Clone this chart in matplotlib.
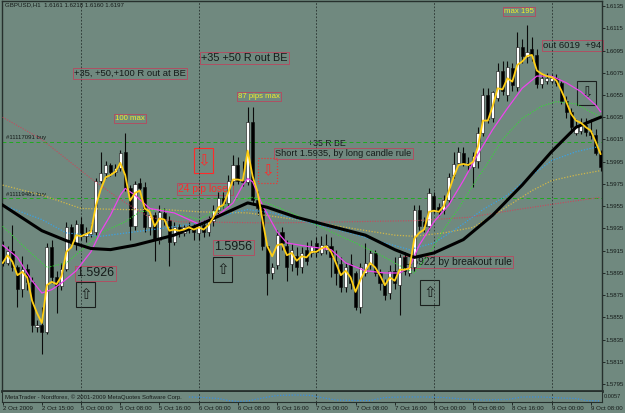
import numpy as np
import matplotlib.pyplot as plt
from matplotlib.patches import Rectangle

plt.rcParams["font.family"] = ["Liberation Sans", "DejaVu Sans"]

BG = "#70897f"
INK = "#151b19"
BOX = "#b8475e"

# GBPUSD H1, one value per bar: 2 Oct 2009 07:00 .. 9 Oct 2009 10:00
opens = [1.5919, 1.5904, 1.5915, 1.5900, 1.5881, 1.5899, 1.5887, 1.5846, 1.5848, 1.5842,
         1.5918, 1.5891, 1.5883, 1.5899, 1.5936, 1.5922, 1.5939, 1.5928, 1.5930, 1.5932,
         1.5978, 1.5985, 1.5992, 1.5986, 1.5989, 1.6004, 1.5971, 1.5937, 1.5976, 1.5972,
         1.5936, 1.5947, 1.5925, 1.5949, 1.5943, 1.5923, 1.5936, 1.5931, 1.5935, 1.5937,
         1.5931, 1.5938, 1.5932, 1.5942, 1.5952, 1.5962, 1.5958, 1.5978, 1.5992, 1.5978,
         1.5977, 1.6031, 1.5961, 1.5953, 1.5919, 1.5895, 1.5902, 1.5932, 1.5919, 1.5903,
         1.5910, 1.5900, 1.5916, 1.5913, 1.5922, 1.5913, 1.5916, 1.5919, 1.5906, 1.5903,
         1.5882, 1.5903, 1.5895, 1.5864, 1.5895, 1.5902, 1.5913, 1.5895, 1.5886, 1.5877,
         1.5897, 1.5884, 1.5909, 1.5895, 1.5900, 1.5952, 1.5941, 1.5937, 1.5964, 1.5954,
         1.5952, 1.5961, 1.5983, 1.5994, 1.6003, 1.5994, 1.5990, 1.5996, 1.6021, 1.6055,
         1.6034, 1.6052, 1.6077, 1.6055, 1.6079, 1.6062, 1.6098, 1.6089, 1.6096, 1.6091,
         1.6065, 1.6068, 1.6068, 1.6070, 1.6066, 1.6050, 1.6040, 1.6021, 1.6023, 1.6028,
         1.6022, 1.6019, 1.6003]
highs = [1.5924, 1.5919, 1.5938, 1.5902, 1.5910, 1.5903, 1.5891, 1.5853, 1.5864, 1.5922,
         1.5925, 1.5897, 1.5904, 1.5941, 1.5939, 1.5943, 1.5945, 1.5936, 1.5939, 1.5980,
         1.6004, 1.5996, 1.5994, 1.5993, 1.6006, 1.6021, 1.5974, 1.5978, 1.5980, 1.5977,
         1.5950, 1.5950, 1.5956, 1.5953, 1.5946, 1.5941, 1.5939, 1.5938, 1.5941, 1.5939,
         1.5943, 1.5943, 1.5946, 1.5956, 1.5968, 1.5968, 1.5983, 1.6001, 1.5999, 1.5996,
         1.6044, 1.6044, 1.5969, 1.5956, 1.5921, 1.5904, 1.5934, 1.5936, 1.5925, 1.5921,
         1.5918, 1.5918, 1.5923, 1.5925, 1.5927, 1.5928, 1.5930, 1.5927, 1.5916, 1.5909,
         1.5904, 1.5912, 1.5897, 1.5904, 1.5922, 1.5916, 1.5916, 1.5899, 1.5890, 1.5902,
         1.5909, 1.5912, 1.5914, 1.5904, 1.5956, 1.5956, 1.5945, 1.5971, 1.5968, 1.5958,
         1.5965, 1.5985, 1.6004, 1.6008, 1.6008, 1.5999, 1.6004, 1.6026, 1.6061, 1.6061,
         1.6059, 1.6084, 1.6086, 1.6086, 1.6084, 1.6112, 1.6105, 1.6118, 1.6107, 1.6096,
         1.6074, 1.6075, 1.6074, 1.6074, 1.6068, 1.6054, 1.6043, 1.6033, 1.6034, 1.6034,
         1.6033, 1.6024, 1.6006]
lows = [1.5901, 1.5902, 1.5897, 1.5864, 1.5873, 1.5880, 1.5842, 1.5842, 1.5822, 1.5840,
        1.5886, 1.5859, 1.5880, 1.5897, 1.5920, 1.5916, 1.5925, 1.5923, 1.5927, 1.5929,
        1.5976, 1.5980, 1.5982, 1.5982, 1.5987, 1.5969, 1.5925, 1.5934, 1.5969, 1.5932,
        1.5929, 1.5906, 1.5921, 1.5938, 1.5901, 1.5920, 1.5927, 1.5928, 1.5931, 1.5925,
        1.5925, 1.5927, 1.5928, 1.5937, 1.5948, 1.5953, 1.5955, 1.5974, 1.5975, 1.5973,
        1.5974, 1.5956, 1.5947, 1.5916, 1.5875, 1.5890, 1.5899, 1.5916, 1.5888, 1.5897,
        1.5893, 1.5895, 1.5902, 1.5909, 1.5909, 1.5911, 1.5912, 1.5891, 1.5884, 1.5878,
        1.5878, 1.5881, 1.5862, 1.5859, 1.5892, 1.5899, 1.5892, 1.5880, 1.5871, 1.5872,
        1.5881, 1.5857, 1.5893, 1.5892, 1.5897, 1.5934, 1.5932, 1.5934, 1.5949, 1.5946,
        1.5948, 1.5958, 1.5980, 1.5992, 1.5991, 1.5987, 1.5972, 1.5989, 1.6018, 1.6030,
        1.6031, 1.6050, 1.6055, 1.6050, 1.6059, 1.6059, 1.6084, 1.6084, 1.6086, 1.6061,
        1.6061, 1.6065, 1.6066, 1.6063, 1.6047, 1.6034, 1.6021, 1.6019, 1.6020, 1.6018,
        1.6015, 1.6001, 1.5987]
closes = [1.5904, 1.5915, 1.5900, 1.5881, 1.5899, 1.5887, 1.5848, 1.5848, 1.5842, 1.5918,
          1.5891, 1.5883, 1.5899, 1.5936, 1.5922, 1.5939, 1.5928, 1.5931, 1.5934, 1.5978,
          1.5985, 1.5992, 1.5986, 1.5989, 1.6003, 1.5971, 1.5937, 1.5975, 1.5971, 1.5936,
          1.5947, 1.5925, 1.5950, 1.5943, 1.5923, 1.5936, 1.5931, 1.5936, 1.5937, 1.5932,
          1.5938, 1.5932, 1.5942, 1.5952, 1.5962, 1.5958, 1.5978, 1.5992, 1.5978, 1.5977,
          1.6031, 1.5961, 1.5953, 1.5919, 1.5895, 1.5900, 1.5929, 1.5922, 1.5900, 1.5916,
          1.5900, 1.5913, 1.5906, 1.5919, 1.5914, 1.5920, 1.5920, 1.5909, 1.5895, 1.5882,
          1.5900, 1.5886, 1.5864, 1.5900, 1.5904, 1.5913, 1.5895, 1.5886, 1.5875, 1.5897,
          1.5886, 1.5909, 1.5897, 1.5900, 1.5952, 1.5937, 1.5937, 1.5967, 1.5952, 1.5950,
          1.5961, 1.5981, 1.5993, 1.6004, 1.5994, 1.5992, 1.6000, 1.6021, 1.6055, 1.6033,
          1.6058, 1.6077, 1.6059, 1.6080, 1.6064, 1.6098, 1.6090, 1.6094, 1.6091, 1.6065,
          1.6070, 1.6070, 1.6070, 1.6066, 1.6050, 1.6040, 1.6026, 1.6026, 1.6028, 1.6022,
          1.6019, 1.6003, 1.5990]

# yellow fast average, one value per bar
fast_ma = [1.5904, 1.5911, 1.5905, 1.5893, 1.5896, 1.5891, 1.5870, 1.5859, 1.5850, 1.5884,
           1.5887, 1.5885, 1.5892, 1.5914, 1.5918, 1.5929, 1.5928, 1.5930, 1.5932, 1.5955,
           1.5970, 1.5981, 1.5983, 1.5986, 1.5994, 1.5983, 1.5960, 1.5967, 1.5969, 1.5953,
           1.5950, 1.5937, 1.5944, 1.5943, 1.5933, 1.5934, 1.5933, 1.5934, 1.5936, 1.5934,
           1.5936, 1.5934, 1.5938, 1.5945, 1.5954, 1.5956, 1.5967, 1.5979, 1.5979, 1.5978,
           1.6005, 1.5982, 1.5968, 1.5943, 1.5919, 1.5910, 1.5920, 1.5921, 1.5911, 1.5913,
           1.5906, 1.5910, 1.5909, 1.5914, 1.5914, 1.5917, 1.5919, 1.5914, 1.5904, 1.5893,
           1.5897, 1.5891, 1.5878, 1.5889, 1.5897, 1.5904, 1.5900, 1.5893, 1.5884, 1.5891,
           1.5888, 1.5898, 1.5898, 1.5899, 1.5926, 1.5931, 1.5934, 1.5950, 1.5951, 1.5950,
           1.5955, 1.5968, 1.5981, 1.5992, 1.5993, 1.5992, 1.5995, 1.6009, 1.6032, 1.6032,
           1.6045, 1.6061, 1.6060, 1.6070, 1.6067, 1.6082, 1.6085, 1.6090, 1.6091, 1.6077,
           1.6074, 1.6072, 1.6071, 1.6068, 1.6059, 1.6049, 1.6038, 1.6032, 1.6030, 1.6026,
           1.6023, 1.6013, 1.6002]

magenta_bars = [0, 3, 6, 8, 10, 12, 15, 18, 20, 22, 24, 25, 27, 30, 35, 40, 44, 47, 49, 50,
                51, 53, 56, 58, 62, 67, 70, 74, 78, 81, 83, 85, 88, 91, 94, 97, 100, 103, 106, 109,
                112, 115, 118, 121, 122]
magenta_ma = [1.5920, 1.5909, 1.5888, 1.5877, 1.5880, 1.5886, 1.5897, 1.5914, 1.5932, 1.5947,
              1.5965, 1.5971, 1.5965, 1.5953, 1.5949, 1.5939, 1.5947, 1.5958, 1.5974, 1.5980,
              1.5977, 1.5956, 1.5932, 1.5922, 1.5919, 1.5916, 1.5904, 1.5897, 1.5895, 1.5895,
              1.5900, 1.5920, 1.5941, 1.5956, 1.5978, 1.6002, 1.6024, 1.6043, 1.6061, 1.6072,
              1.6072, 1.6066, 1.6058, 1.6046, 1.6040]
green_bars = [0, 5, 9, 13, 17, 20, 25, 28, 33, 40, 44, 48, 51, 55, 60, 66, 72, 78, 82, 84,
              87, 90, 93, 96, 99, 102, 106, 110, 113, 117, 122]
green_ma = [1.5937, 1.5916, 1.5900, 1.5904, 1.5919, 1.5931, 1.5941, 1.5950, 1.5952, 1.5943,
            1.5952, 1.5961, 1.5963, 1.5956, 1.5947, 1.5934, 1.5922, 1.5909, 1.5899, 1.5895,
            1.5912, 1.5934, 1.5953, 1.5974, 1.5994, 1.6015, 1.6034, 1.6045, 1.6049, 1.6047,
            1.6035]
black_bars = [0, 8, 13, 18, 22, 27, 35, 41, 46, 50, 54, 60, 67, 74, 80, 84, 88, 94, 100, 106,
              112, 117, 122]
black_ma = [1.5956, 1.5933, 1.5924, 1.5917, 1.5916, 1.5920, 1.5929, 1.5940, 1.5950, 1.5958,
            1.5954, 1.5945, 1.5937, 1.5929, 1.5916, 1.5909, 1.5913, 1.5925, 1.5947, 1.5974,
            1.6004, 1.6026, 1.6035]
blue_bars = [0, 8, 13, 20, 27, 34, 40, 45, 50, 55, 62, 70, 78, 83, 88, 93, 98, 103, 108, 112,
             117, 122]
blue_ma = [1.5956, 1.5943, 1.5931, 1.5928, 1.5932, 1.5936, 1.5940, 1.5947, 1.5952, 1.5949,
           1.5941, 1.5932, 1.5922, 1.5916, 1.5922, 1.5936, 1.5952, 1.5965, 1.5983, 1.5996,
           1.6004, 1.6009]
khaki_bars = [0, 8, 16, 25, 33, 40, 50, 60, 70, 80, 84, 90, 96, 102, 108, 112, 117, 122]
khaki_ma = [1.5974, 1.5965, 1.5953, 1.5952, 1.5952, 1.5950, 1.5949, 1.5943, 1.5936, 1.5929,
            1.5928, 1.5931, 1.5936, 1.5952, 1.5969, 1.5978, 1.5983, 1.5987]
red_bars = [0, 8, 18, 24, 30, 36, 55, 70, 84, 95, 105, 114, 122]
red_ma = [1.6035, 1.6015, 1.5980, 1.5961, 1.5945, 1.5941, 1.5940, 1.5941, 1.5942, 1.5945,
          1.5952, 1.5958, 1.5963]

# lower window indicator
sub_bars = [38, 41, 44, 46, 48, 50, 53, 56, 60, 63, 65, 68, 72, 75, 78, 82, 86, 90, 94, 98,
            103, 106, 110, 114, 117, 119, 122]
sub_vals = [0.0030, 0.0027, 0.0021, 0.0009, 0.0003, 0.0006, 0.0024, 0.0039, 0.0042, 0.0039,
            0.0027, 0.0012, 0.0009, 0.0009, 0.0027, 0.0030, 0.0030, 0.0027, 0.0018, 0.0012,
            0.0015, 0.0030, 0.0030, 0.0024, 0.0021, 0.0009, 0.0006]

order_lines = [1.6013, 1.5962]
order_names = ["#11117091 buy", "#11119481 buy"]
day_starts = [16, 40, 64, 88, 112]
time_ticks = [0, 8, 16, 24, 32, 40, 48, 56, 64, 72, 80, 88, 96, 104, 112, 120]
time_labels = ["2 Oct 2009", "2 Oct 15:00", "5 Oct 00:00", "5 Oct 08:00", "5 Oct 16:00",
               "6 Oct 00:00", "6 Oct 08:00", "6 Oct 16:00", "7 Oct 00:00", "7 Oct 08:00",
               "7 Oct 16:00", "8 Oct 00:00", "8 Oct 08:00", "8 Oct 16:00", "9 Oct 00:00",
               "9 Oct 08:00"]
price_ticks = [1.5795, 1.5815, 1.5835, 1.5855, 1.5875, 1.5895, 1.5915, 1.5935, 1.5955,
               1.5975, 1.5995, 1.6015, 1.6035, 1.6055, 1.6075, 1.6095, 1.6115, 1.6135]

fig = plt.figure(figsize=(6.25, 4.13), dpi=100, facecolor=BG)
ax = fig.add_axes([2 / 625, 22 / 413, 600 / 625, 390 / 413], facecolor=BG)
sub = fig.add_axes([2 / 625, 11 / 413, 600 / 625, 10 / 413], facecolor=BG, sharex=ax)

# candles
bars = np.arange(len(closes))
o = np.array(opens)
c = np.array(closes)
up = c >= o
ax.vlines(bars, lows, highs, color="#0b0b0b", lw=0.8, zorder=3)
ax.bar(bars, np.maximum(np.abs(c - o), 0.00009), bottom=np.minimum(o, c), width=0.64,
       color=np.where(up, "white", "black").tolist(), edgecolor="#0b0b0b",
       linewidth=0.4, zorder=4)

# averages
dots = (0, (1, 1.3))
ax.plot(red_bars, red_ma, color="#c8485c", lw=0.8, ls=dots, zorder=5)
ax.plot(khaki_bars, khaki_ma, color="#d2b848", lw=0.9, ls=dots, zorder=5)
ax.plot(blue_bars, blue_ma, color="#3aa2e6", lw=0.9, ls=dots, zorder=5)
ax.plot(green_bars, green_ma, color="#33dd33", lw=0.8, ls=dots, zorder=5)
ax.plot(magenta_bars, magenta_ma, color="#ee44ee", lw=0.9, zorder=5.2)
ax.plot(black_bars, black_ma, color="black", lw=2.2, zorder=5.4)
ax.plot(bars, fast_ma, color="#ffcf14", lw=1.3, zorder=5.6)

# order lines
for level, name in zip(order_lines, order_names):
    ax.axhline(level, color="#1faa1f", lw=0.7, ls=(0, (4, 3)), zorder=2)
    ax.text(0.7, level + 0.00015, name, fontsize=4.3, color=INK, va="bottom", zorder=2)

for d in day_starts:
    ax.axvline(d, color="#26302d", lw=0.6, ls=(0, (2, 2)), zorder=1.5)
    sub.axvline(d, color="#26302d", lw=0.6, ls=(0, (2, 2)), zorder=1.5)


def note(x, y, s, size, color=INK, box=True):
    kw = dict(fontsize=size, color=color, va="top", ha="left", zorder=1)
    if box:
        kw["bbox"] = dict(boxstyle="square,pad=0.12", fc="none", ec=BOX, lw=0.6)
    ax.text(x, y, s, **kw)


note(14.6, 1.60784, "+35, +50,+100 R out at BE", 6.8)
note(40.5, 1.60928, "+35 +50 R out BE", 7.8)
note(48.0, 1.60568, "87 pips max", 5.6, color="#f2ee2a")
note(22.9, 1.60370, "100 max", 5.6, color="#f2ee2a")
note(102.3, 1.61332, "max 195", 5.6, color="#f2ee2a")
note(110.3, 1.61035, "out 6019  +94", 6.8)
note(62.3, 1.60154, "+35 R BE", 6.3, box=False)
note(55.6, 1.60064, "Short 1.5935, by long candle rule", 6.7)
note(35.8, 1.59750, "24 pip loser", 7.4, color="#ff2a2a")
note(15.0, 1.59000, "1.5926", 8.9)
note(43.2, 1.59237, "1.5956", 8.9)
note(81.9, 1.59094, "1.5922 by breakout rule", 7.4)


def arrow_box(x0, top, bottom, glyph, color, ls="-"):
    ax.add_patch(Rectangle((x0, bottom), 3.88, top - bottom, fill=False, ec=color,
                           lw=0.8, ls=ls, zorder=1))
    ax.text(x0 + 1.94, (top + bottom) / 2, glyph, color=color, fontsize=11,
            ha="center", va="center", family="DejaVu Sans", zorder=1)


arrow_box(14.96, 1.58869, 1.58644, "\u21e7", "#1a1f1d")
arrow_box(42.9, 1.59094, 1.58869, "\u21e7", "#1a1f1d")
arrow_box(85.2, 1.58887, 1.58662, "\u21e7", "#1a1f1d")
arrow_box(117.2, 1.60676, 1.60460, "\u21e9", "#1a1f1d")
arrow_box(39.0, 1.60073, 1.59849, "\u21e9", "#ff2a2a")
arrow_box(52.1, 1.59984, 1.59759, "\u21e9", "#ff2a2a", ls=":")

ax.set_xlim(-0.14, 122.3)
ax.set_ylim(1.57889, 1.61395)
ax.yaxis.tick_right()
ax.set_yticks(price_ticks)
ax.set_yticklabels([f"{p:.4f}" for p in price_ticks])
ax.tick_params(axis="y", length=2, width=0.6, pad=0.8, labelsize=4.3, colors=INK)
ax.tick_params(axis="x", bottom=False, labelbottom=False)
for s in ax.spines.values():
    s.set_color("#26302d")
    s.set_linewidth(1.0)
ax.spines["bottom"].set_linewidth(2.0)

sub.plot(sub_bars, sub_vals, color="#3a8fe0", lw=0.9, ls=dots)
sub.set_ylim(0, 0.0060)
sub.set_yticks([])
sub.set_xticks(time_ticks)
sub.set_xticklabels(time_labels, ha="left")
sub.tick_params(axis="x", length=2, width=0.6, pad=1, labelsize=4.4, colors=INK)
for s in sub.spines.values():
    s.set_color("#26302d")
    s.set_linewidth(0.8)
sub.spines["top"].set_visible(False)
sub.text(0.005, 0.5, "MetaTrader - Nordforex, \u00a9 2001-2009 MetaQuotes Software Corp.",
         transform=sub.transAxes, fontsize=4.3, color=INK, va="center")

fig.text(5 / 625, 1 - 2.5 / 413, "GBPUSD,H1  1.6161 1.6218 1.6160 1.6197",
         fontsize=4.4, color=INK, va="top")
fig.text(604 / 625, 1 - 397 / 413, "0.0057", fontsize=4.1, color=INK, va="center")

fig.savefig("out.png", dpi=100, facecolor=BG)
